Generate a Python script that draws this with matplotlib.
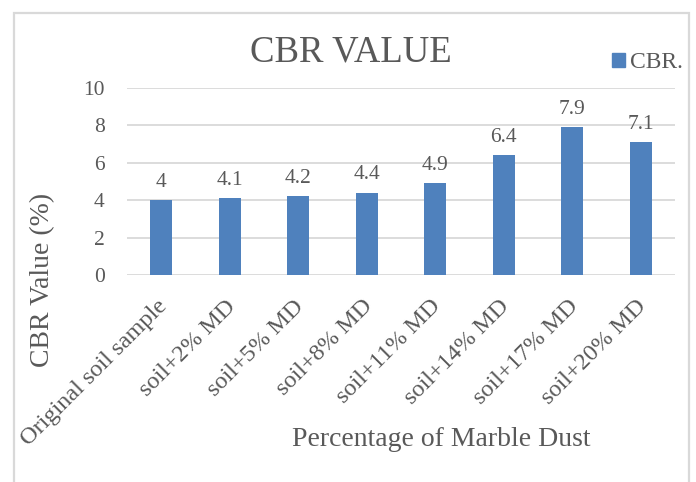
import matplotlib
matplotlib.use("Agg")
import matplotlib.pyplot as plt
from matplotlib.patches import Rectangle, Patch
from matplotlib.transforms import ScaledTranslation

categories = ["Original soil sample", "soil+2% MD", "soil+5% MD", "soil+8% MD",
              "soil+11% MD", "soil+14% MD", "soil+17% MD", "soil+20% MD"]
cbr_values = [4, 4.1, 4.2, 4.4, 4.9, 6.4, 7.9, 7.1]
y_ticks = [0, 2, 4, 6, 8, 10]

W, H = 696, 482
plt.rcParams["font.family"] = ["Liberation Serif", "DejaVu Serif"]
text_color = "#595959"
grid_color = "#D9D9D9"
bar_color = "#4F81BD"

fig = plt.figure(figsize=(W / 100, H / 100), dpi=100)
fig.patch.set_facecolor("white")

# chart frame
fig.add_artist(Rectangle((14 / W, -0.05), (689 - 14) / W, 1 - 13 / H + 0.05,
                         transform=fig.transFigure, fill=False,
                         edgecolor=grid_color, linewidth=1.6))

ax = fig.add_axes([127 / W, 1 - 275 / H, (675 - 127) / W, (275 - 88) / H])
x = range(len(categories))
ax.bar(x, cbr_values, width=0.32, color=bar_color, zorder=3, label="CBR.")

ax.set_xlim(-0.5, len(categories) - 0.5)
ax.set_ylim(0, 10)
ax.set_yticks(y_ticks)
ax.yaxis.grid(True, color=grid_color, linewidth=1.3, zorder=0)
for s in ax.spines.values():
    s.set_visible(False)
ax.tick_params(axis="y", length=0, pad=16, labelsize=15.5, labelcolor=text_color)
ax.tick_params(axis="x", length=0, pad=15, labelsize=17.5, labelcolor=text_color)
ax.set_xticks(list(x))
labels = ax.set_xticklabels(categories, rotation=45, ha="right", va="top",
                            rotation_mode="anchor")
shift = ScaledTranslation(-5 / 100, 0, fig.dpi_scale_trans)
for lab in labels:
    lab.set_transform(lab.get_transform() + shift)

for xi, v in zip(x, cbr_values):
    ax.annotate(f"{v:g}", (xi, v), xytext=(0, 6), textcoords="offset points",
                ha="center", va="bottom", fontsize=15.5, color=text_color)

fig.text(351 / W, 1 - 52 / H, "CBR VALUE", ha="center", va="center",
         fontsize=26.5, color=text_color)
fig.text(43 / W, 1 - 280 / H, "CBR Value (%)", rotation=90, ha="center",
         va="center", fontsize=20, color=text_color)
fig.text(441 / W, 1 - 440 / H, "Percentage of Marble Dust", ha="center",
         va="center", fontsize=20, color=text_color)

fig.legend(handles=[Patch(color=bar_color, label="CBR.")], loc="center left",
           bbox_to_anchor=(612 / W, 1 - 63 / H), frameon=False, fontsize=17,
           labelcolor=text_color, handlelength=0.55, handleheight=0.55,
           handletextpad=0.2, borderpad=0, borderaxespad=0)

fig.savefig("out.png", dpi=100)
